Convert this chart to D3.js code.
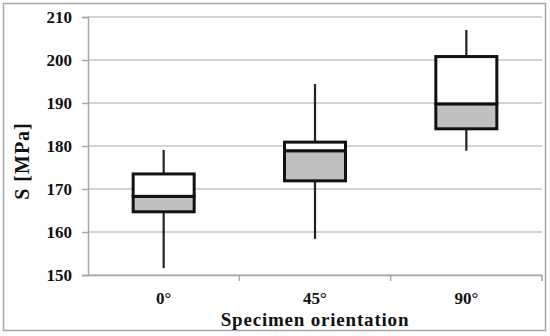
<!DOCTYPE html>
<html>
<head>
<meta charset="utf-8">
<script src="https://cdn.jsdelivr.net/npm/d3@7"></script>
<style>
  body { margin: 0; background: #fff; }
  text { font-family: "Liberation Serif", "Times New Roman", serif; font-weight: bold; }
</style>
</head>
<body>
<script>
const width = 550;
const height = 336;

// data
const categories = ["0°", "45°", "90°"];
const whiskerLow = [151.6, 158.4, 178.9];
const q1 = [164.7, 171.9, 184.0];
const median = [168.3, 178.9, 189.8];
const q3 = [173.5, 180.9, 200.8];
const whiskerHigh = [179.1, 194.4, 207.0];
const yTicks = [150, 160, 170, 180, 190, 200, 210];

const rows = categories.map((c, i) => ({
    cat: c, lo: whiskerLow[i], q1: q1[i], med: median[i], q3: q3[i], hi: whiskerHigh[i]
}));

const margin = { top: 17, right: 8, bottom: 61, left: 88 };

const svg = d3.select("body")
    .append("svg")
    .attr("width", width)
    .attr("height", height);

// outer frame
svg.append("rect")
    .attr("x", 3.5).attr("y", 3.5)
    .attr("width", 542).attr("height", 327)
    .attr("fill", "none")
    .attr("stroke", "#a8a8a8")
    .attr("stroke-width", 1.5);

const x = d3.scaleBand()
    .domain(categories)
    .range([margin.left, width - margin.right]);

const y = d3.scaleLinear()
    .domain([150, 210])
    .range([height - margin.bottom, margin.top]);

// gridlines
svg.append("g")
    .selectAll("line")
    .data(yTicks)
    .enter()
    .append("line")
    .attr("x1", margin.left)
    .attr("x2", width - margin.right)
    .attr("y1", d => y(d))
    .attr("y2", d => y(d))
    .attr("stroke", "#c4c4c4")
    .attr("stroke-width", 1.5);

// y axis
const yAxis = svg.append("g")
    .attr("transform", `translate(${margin.left},0)`)
    .call(d3.axisLeft(y).tickValues(yTicks).tickSize(6).tickPadding(10));
yAxis.select(".domain").attr("stroke", "#a8a8a8").attr("stroke-width", 1.5);
yAxis.selectAll(".tick line").attr("stroke", "#a8a8a8").attr("stroke-width", 1.5);
yAxis.selectAll("text")
    .attr("font-size", "17px")
    .attr("fill", "#111");

// x axis: ticks sit between categories
const xAxis = svg.append("g")
    .attr("transform", `translate(0,${y(150)})`)
    .call(d3.axisBottom(x).tickSize(0).tickPadding(17));
xAxis.select(".domain").attr("stroke", "#a8a8a8").attr("stroke-width", 1.5);
xAxis.selectAll("text")
    .attr("font-size", "17px")
    .attr("fill", "#111");
xAxis.selectAll(".sep")
    .data(categories.slice(1).concat(["end"]))
    .enter()
    .append("line")
    .attr("x1", (d, i) => i < categories.length - 1 ? x(d) : x.range()[1])
    .attr("x2", (d, i) => i < categories.length - 1 ? x(d) : x.range()[1])
    .attr("y1", 0)
    .attr("y2", 6)
    .attr("stroke", "#a8a8a8")
    .attr("stroke-width", 1.5);

// boxes
const boxW = 61;
const box = svg.append("g")
    .selectAll("g")
    .data(rows)
    .enter()
    .append("g")
    .attr("transform", d => `translate(${x(d.cat) + x.bandwidth() / 2},0)`);

box.append("line")
    .attr("y1", d => y(d.hi))
    .attr("y2", d => y(d.lo))
    .attr("stroke", "#222")
    .attr("stroke-width", 2.2);

box.append("rect")
    .attr("x", -boxW / 2)
    .attr("y", d => y(d.med))
    .attr("width", boxW)
    .attr("height", d => y(d.q1) - y(d.med))
    .attr("fill", "#c0c0c0")
    .attr("stroke", "#111")
    .attr("stroke-width", 3);

box.append("rect")
    .attr("x", -boxW / 2)
    .attr("y", d => y(d.q3))
    .attr("width", boxW)
    .attr("height", d => y(d.med) - y(d.q3))
    .attr("fill", "#fff")
    .attr("stroke", "#111")
    .attr("stroke-width", 3);

// axis titles
svg.append("text")
    .attr("transform", "translate(29,161) rotate(-90)")
    .attr("text-anchor", "middle")
    .attr("font-size", "20px")
    .attr("letter-spacing", "1px")
    .attr("fill", "#111")
    .text("S [MPa]");

svg.append("text")
    .attr("x", 315)
    .attr("y", 326)
    .attr("text-anchor", "middle")
    .attr("font-size", "19px")
    .attr("letter-spacing", "0.8px")
    .attr("fill", "#111")
    .text("Specimen orientation");
</script>
</body>
</html>
